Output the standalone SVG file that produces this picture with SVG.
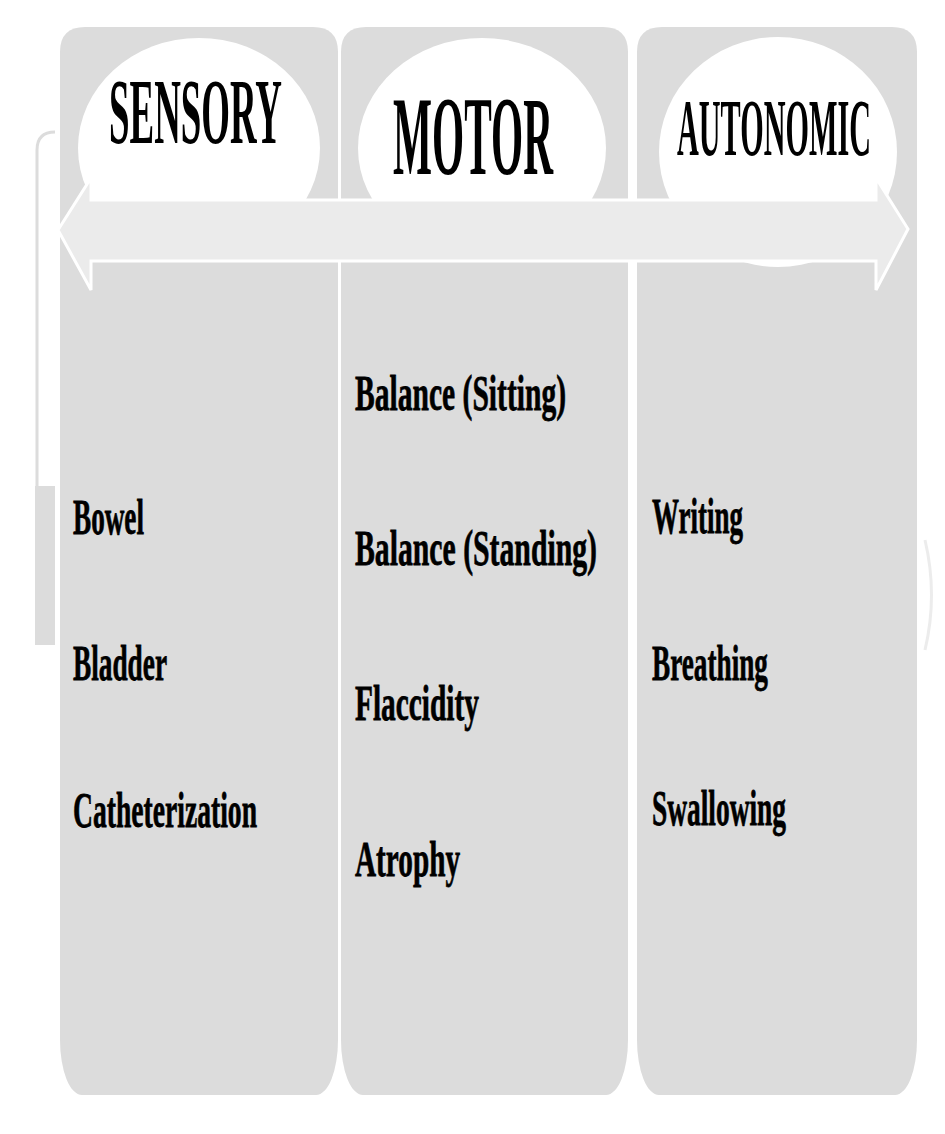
<svg xmlns="http://www.w3.org/2000/svg" width="945" height="1134" viewBox="0 0 945 1134">
  <style>
    .col { fill: #dcdcdc; }
    .bubble { fill: #ffffff; }
    .head { font-family: "Liberation Serif", "Times New Roman", serif; font-weight: bold; fill: #000000; }
    .item { font-family: "Liberation Serif", "Times New Roman", serif; font-weight: bold; font-size: 27px; fill: #000000; stroke: #000000; stroke-width: 0.4; }
  </style>
  <rect x="0" y="0" width="945" height="1134" fill="#ffffff"/>

  <!-- left bracket decoration -->
  <g id="bracket">
    <path d="M55,132 Q37,132 37,150 L37,488" fill="none" stroke="#dcdcdc" stroke-width="3"/>
    <rect x="35" y="486" width="20" height="159" fill="#dcdcdc"/>
    <path d="M925,540 Q938,595 925,650" fill="none" stroke="#ececec" stroke-width="3"/>
  </g>

  <g id="sensory">
    <path class="col" d="M60,52 Q60,27 85,27 L313,27 Q338,27 338,52 L338,1040 A22,55 0 0 1 316,1095 L82,1095 A22,55 0 0 1 60,1040 Z"/>
    <ellipse class="bubble" cx="199" cy="148" rx="121" ry="110"/>
    <text class="head" x="109" y="143" font-size="36.6" textLength="173" lengthAdjust="spacingAndGlyphs" transform="matrix(1,0,0,2.55,0,-221.65)">SENSORY</text>
    <text class="item" x="73" y="534" textLength="71" lengthAdjust="spacingAndGlyphs" transform="matrix(1,0,0,1.9,0,-480.6)">Bowel</text>
    <text class="item" x="73" y="680" textLength="94" lengthAdjust="spacingAndGlyphs" transform="matrix(1,0,0,1.9,0,-612)">Bladder</text>
    <text class="item" x="73" y="827" textLength="184" lengthAdjust="spacingAndGlyphs" transform="matrix(1,0,0,1.9,0,-744.3)">Catheterization</text>
  </g>

  <g id="motor">
    <path class="col" d="M341,52 Q341,27 366,27 L603,27 Q628,27 628,52 L628,1040 A22,55 0 0 1 606,1095 L363,1095 A22,55 0 0 1 341,1040 Z"/>
    <ellipse class="bubble" cx="482" cy="148" rx="124" ry="110"/>
    <text class="head" x="393" y="174" font-size="41" textLength="160" lengthAdjust="spacingAndGlyphs" transform="matrix(1,0,0,2.76,0,-306.24)">MOTOR</text>
    <text class="item" x="355" y="410" textLength="211" lengthAdjust="spacingAndGlyphs" transform="matrix(1,0,0,1.9,0,-369)">Balance (Sitting)</text>
    <text class="item" x="355" y="565" textLength="242" lengthAdjust="spacingAndGlyphs" transform="matrix(1,0,0,1.9,0,-508.5)">Balance (Standing)</text>
    <text class="item" x="355" y="720" textLength="124" lengthAdjust="spacingAndGlyphs" transform="matrix(1,0,0,1.9,0,-648)">Flaccidity</text>
    <text class="item" x="355" y="876" textLength="105" lengthAdjust="spacingAndGlyphs" transform="matrix(1,0,0,1.9,0,-788.4)">Atrophy</text>
  </g>

  <g id="autonomic">
    <path class="col" d="M637,52 Q637,27 662,27 L892,27 Q917,27 917,52 L917,1040 A22,55 0 0 1 895,1095 L659,1095 A22,55 0 0 1 637,1040 Z"/>
    <ellipse class="bubble" cx="778" cy="152" rx="119" ry="115"/>
    <text class="head" x="677" y="155" font-size="30.1" textLength="194" lengthAdjust="spacingAndGlyphs" transform="matrix(1,0,0,2.66,0,-257.3)">AUTONOMIC</text>
    <text class="item" x="652" y="533" textLength="91" lengthAdjust="spacingAndGlyphs" transform="matrix(1,0,0,1.9,0,-479.7)">Writing</text>
    <text class="item" x="652" y="680" textLength="116" lengthAdjust="spacingAndGlyphs" transform="matrix(1,0,0,1.9,0,-612)">Breathing</text>
    <text class="item" x="652" y="825" textLength="134" lengthAdjust="spacingAndGlyphs" transform="matrix(1,0,0,1.9,0,-742.5)">Swallowing</text>
  </g>

  <g id="connectors">
    <path d="M58,230 L91,178 L91,200 L876,200 L876,178 L908,229 L876,290 L876,261 L91,261 L91,290 Z" fill="#ebebeb" stroke="#ffffff" stroke-width="3" stroke-linejoin="miter"/>
  </g>
</svg>
